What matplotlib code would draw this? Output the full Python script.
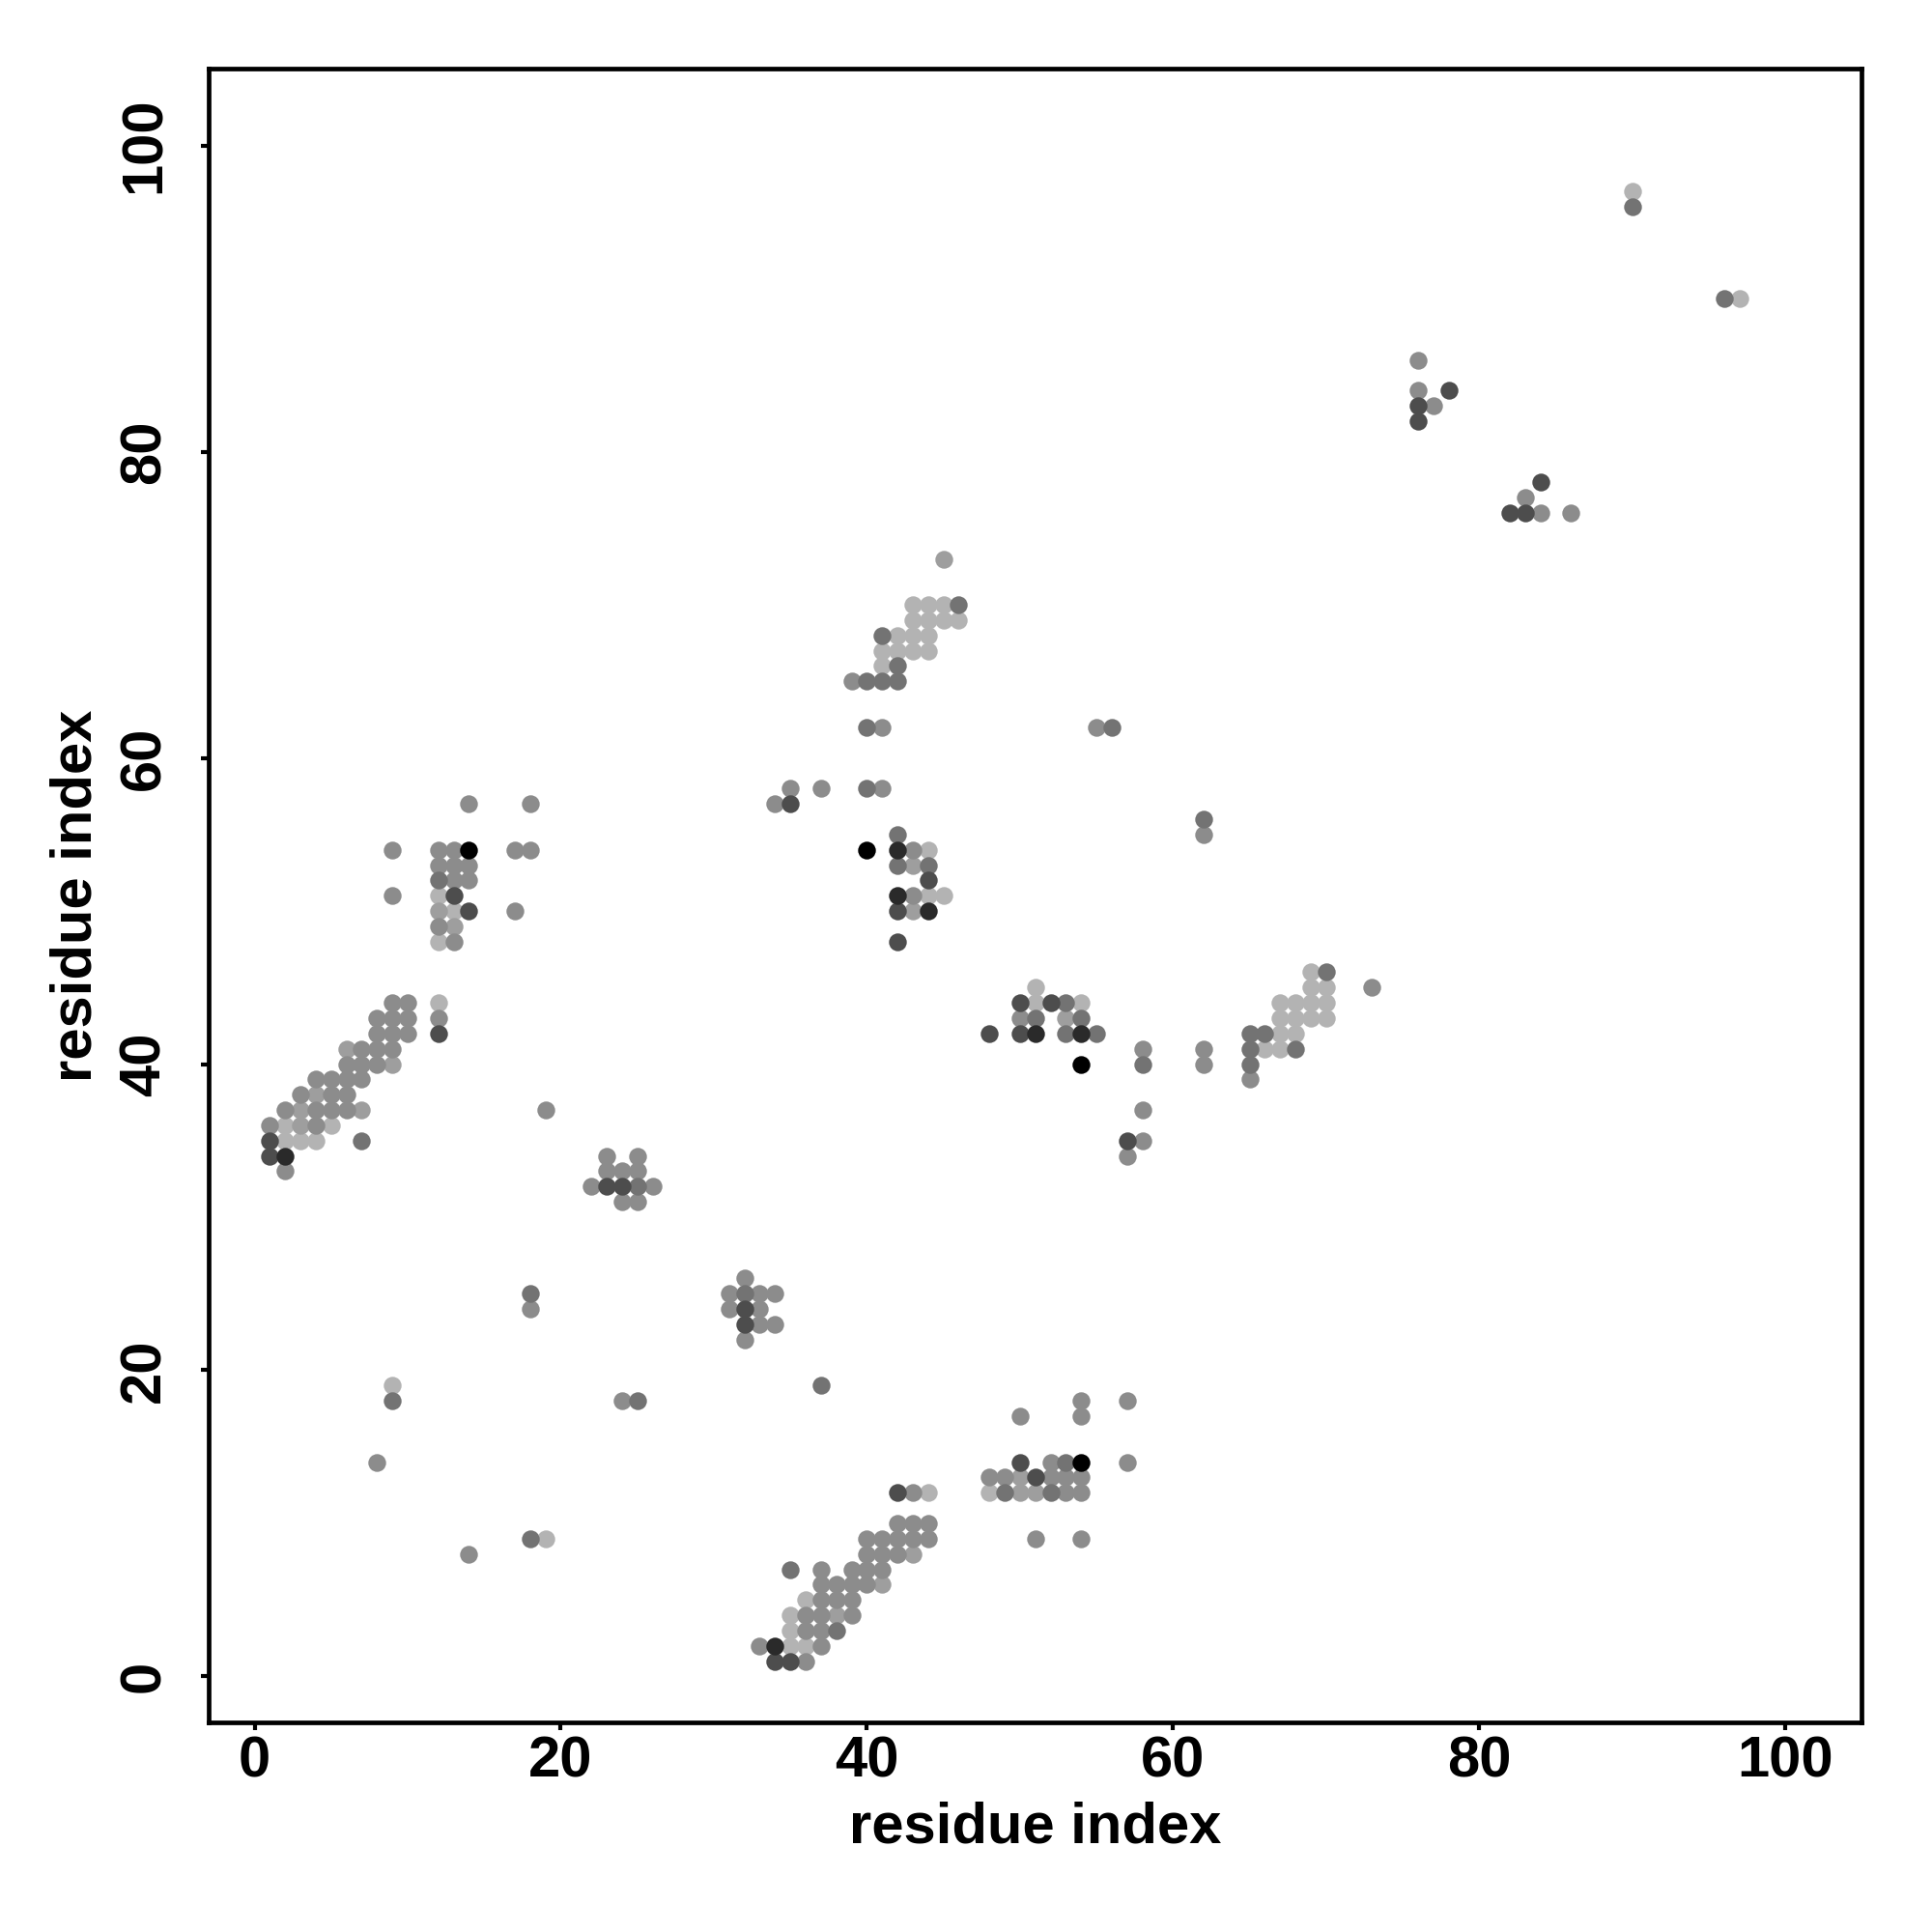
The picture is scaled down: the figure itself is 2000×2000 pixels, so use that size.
import matplotlib
matplotlib.use("Agg")
import matplotlib.pyplot as plt

plt.rcParams['font.family'] = ['Liberation Sans', 'DejaVu Sans']
plt.rcParams['font.weight'] = 'bold'

# contact points grouped by gray shade (x = residue i, y = residue j)
light_x = [2, 2, 3, 4, 5, 12, 12, 13, 12, 9, 19, 35, 36, 35, 35, 36, 44, 48, 43, 44, 45, 43, 44, 45, 46,
           42, 43, 44, 41, 42, 43, 44, 41, 44, 44, 45, 51, 51, 54, 67, 68, 66, 67, 67, 68, 69, 70, 67, 68,
           69, 70, 69, 70, 69, 90, 97]
light_y = [36, 35, 35, 35, 36, 44, 51, 50, 48, 19, 9, 2, 2, 3, 4, 5, 12, 12, 70, 70, 70, 69, 69, 69, 69,
           68, 68, 68, 67, 67, 67, 67, 66, 54, 51, 51, 45, 44, 44, 42, 42, 41, 41, 43, 43, 43, 43, 44, 44,
           44, 44, 45, 45, 46, 97, 90]

midlight_x = [3, 3, 4, 6, 7, 9, 12, 13, 38, 41, 43, 50, 50, 51, 45, 43, 43, 53]
midlight_y = [37, 36, 38, 41, 37, 40, 50, 49, 4, 6, 8, 13, 12, 12, 73, 53, 50, 43]

mid_x = [1, 2, 2, 3, 4, 4, 4, 5, 5, 5, 6, 6, 6, 6, 7, 7, 7, 8, 8, 8, 8, 9, 9, 9, 9, 10, 10, 10, 12, 19,
         14, 18, 9, 12, 13, 17, 18, 12, 13, 14, 13, 14, 9, 17, 12, 13,
         23, 25, 23, 24, 25, 22, 26, 24, 25,
         32, 31, 33, 34, 31, 33, 33, 34, 32,
         18, 8, 14, 24,
         36, 33, 37, 36, 37, 36, 37, 39, 37, 38, 39, 37, 38, 39, 40, 37, 39, 40, 41, 40, 41, 42, 40, 41,
         42, 43, 44, 42, 43, 44, 43,
         54, 57, 50, 54, 52, 57, 48, 49, 52, 53, 54, 53, 54, 51, 54,
         39, 41, 41, 35, 37, 34, 43, 43,
         50, 58, 62, 62, 58, 58, 57,
         65, 73, 55, 62,
         76, 76, 77, 83, 84, 86]
mid_y = [36, 37, 33, 38, 39, 37, 36, 39, 38, 37, 40, 39, 38, 37, 41, 40, 39, 43, 42, 41, 40, 44, 43, 42,
         41, 44, 43, 42, 43, 37,
         57, 57, 54, 54, 54, 54, 54, 53, 53, 53, 52, 52, 51, 50, 49, 48,
         34, 34, 33, 33, 33, 32, 32, 31, 31,
         26, 25, 25, 25, 24, 24, 23, 23, 22,
         24, 14, 8, 18,
         1, 2, 2, 3, 3, 4, 4, 4, 5, 5, 5, 6, 6, 6, 6, 7, 7, 7, 7, 8, 8, 8, 9, 9,
         9, 9, 9, 10, 10, 10, 12,
         18, 18, 17, 17, 14, 14, 13, 13, 13, 13, 13, 12, 12, 9, 9,
         65, 62, 58, 58, 58, 57, 54, 51,
         43, 41, 41, 40, 37, 35, 34,
         39, 45, 62, 55,
         86, 84, 83, 77, 76, 76]

middark_x = [7, 12, 18, 9, 18, 25, 37, 25, 32, 38, 35, 49, 52, 53,
             46, 41, 42, 40, 41, 42, 40, 40, 42, 42, 44,
             53, 51, 54, 53, 55, 58,
             65, 66, 65, 68, 65, 70,
             56, 62, 90, 96]
middark_y = [35, 52, 25, 18, 9, 18, 19, 32, 25, 3, 7, 12, 12, 14,
             70, 68, 66, 65, 65, 65, 62, 58, 55, 53, 53,
             44, 43, 43, 42, 42, 40,
             42, 42, 41, 41, 40, 46,
             62, 56, 96, 90]

dark_x = [1, 1, 13, 14, 12, 23, 24, 32, 32, 34, 35, 42, 50, 51, 35, 44, 42, 42, 50, 52, 48, 50, 57,
          78, 76, 76, 84, 82, 83]
dark_y = [35, 34, 51, 50, 42, 32, 32, 24, 23, 1, 1, 12, 14, 13, 57, 52, 50, 48, 44, 44, 42, 42, 35,
          84, 83, 82, 78, 76, 76]

verydark_x = [2, 34, 44, 42, 42, 51, 54]
verydark_y = [34, 2, 50, 54, 51, 42, 42]

black_x = [14, 54, 40, 54]
black_y = [54, 14, 54, 40]

groups = [
    (light_x, light_y, '#b3b3b3'),
    (midlight_x, midlight_y, '#9e9e9e'),
    (mid_x, mid_y, '#8c8c8c'),
    (middark_x, middark_y, '#737373'),
    (dark_x, dark_y, '#4d4d4d'),
    (verydark_x, verydark_y, '#2a2a2a'),
    (black_x, black_y, '#000000'),
]

ticks = [0, 20, 40, 60, 80, 100]
axis_label = 'residue index'

fig = plt.figure(figsize=(10, 10), dpi=200)
ax = fig.add_axes([0.108, 0.1085, 0.8557, 0.8558])

for gx, gy, col in groups:
    ax.scatter(gx, gy, s=44, c=col, linewidths=0, zorder=2)

ax.set_xlim(-3, 105)
ax.set_ylim(-3, 105)
ax.set_xticks(ticks)
ax.set_yticks(ticks)
ax.set_xticklabels([str(t) for t in ticks], fontsize=21.5, fontweight='bold')
ax.set_yticklabels([str(t) for t in ticks], fontsize=21.5, fontweight='bold',
                   rotation=90, va='center')
ax.tick_params(axis='both', direction='out', length=2.9, width=1.5, color='black')
ax.tick_params(axis='x', pad=2)
ax.tick_params(axis='y', pad=11)
for sp in ax.spines.values():
    sp.set_linewidth(1.7)
    sp.set_color('black')

ax.set_xlabel(axis_label, fontsize=21.5, fontweight='bold')
ax.set_ylabel(axis_label, fontsize=21.5, fontweight='bold')
ax.xaxis.label.set_va('center')
ax.yaxis.label.set_va('center')
ax.xaxis.set_label_coords(0.5, -0.0637)
ax.yaxis.set_label_coords(-0.0798, 0.5)

fig.savefig('out.png', dpi=200, facecolor='white')
